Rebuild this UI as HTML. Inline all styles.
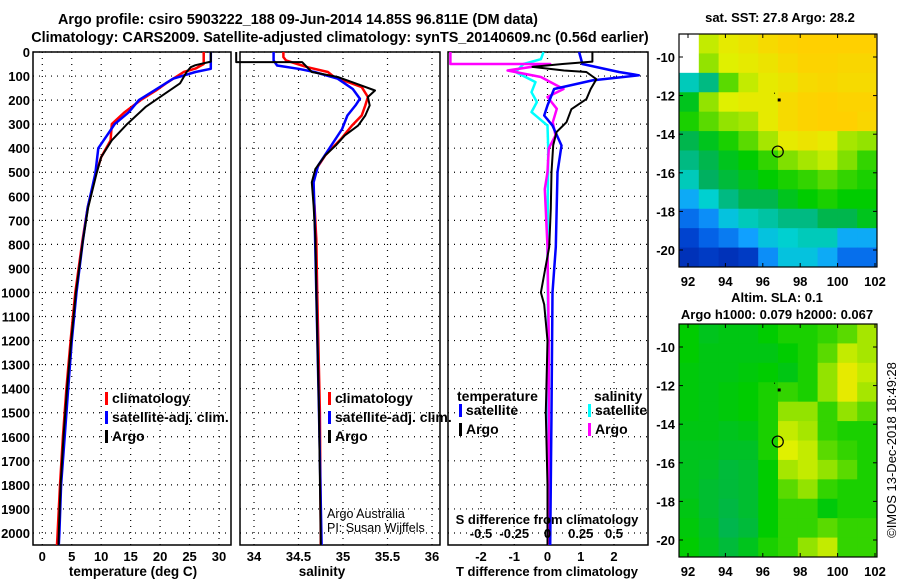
<!DOCTYPE html>
<html><head><meta charset="utf-8"><style>
body{margin:0;background:#fff;}
svg text{font-family:"Liberation Sans",sans-serif;}
</style></head><body>
<svg id="c" width="900" height="580" xmlns="http://www.w3.org/2000/svg">
<rect width="900" height="580" fill="#fff"/>
<text x="298" y="24" text-anchor="middle" font-weight="bold" font-size="14.4">Argo profile: csiro 5903222_188 09-Jun-2014 14.85S 96.811E (DM data)</text>
<text x="340" y="42" text-anchor="middle" font-weight="bold" font-size="14.4">Climatology: CARS2009. Satellite-adjusted climatology: synTS_20140609.nc (0.56d earlier)</text>
<g id="g"></g>
</svg>
<script>
// ---- data ----
const depthTicks=[0,100,200,300,400,500,600,700,800,900,1000,1100,1200,1300,1400,1500,1600,1700,1800,1900,2000];
const tempTicks=[0,5,10,15,20,25,30];
const salTicks=[34,34.5,35,35.5,36];
const tdiffTicks=[-2,-1,0,1,2];
const sdiffTicks=[-0.5,-0.25,0,0.25,0.5];
const argoTDepth=[0,40,55,63,83,130,170,229,300,367,437,506,646,785,1000,1200,1400,1600,1800,2000,2050];
const argoTemp=[28.6,28.6,26,25.2,24.5,23.4,21,17.5,14.4,11.8,10,9.2,7.8,6.9,5.7,4.9,4.2,3.6,3.1,2.8,2.75];
const climTDepth=[0,50,69,83,130,160,200,250,300,367,437,506,646,785,1000,1200,1400,1600,1800,2000,2050];
const climTemp=[27.4,27.4,26,24,21,19.3,16.7,14,11.8,11.6,10,9.1,7.7,6.8,5.6,4.8,4.1,3.5,3.0,2.6,2.5];
const satTDepth=[0,70,83,111,160,200,250,300,400,506,646,785,1000,1200,1400,1600,1800,2000,2050];
const satTemp=[28.6,28.6,26,22.2,19,16.4,14.7,12.3,9.5,9.0,7.7,6.9,5.8,5.0,4.4,3.8,3.2,2.9,2.8];
const argoSDepth=[0,42,42,83,104,125,160,187,222,264,306,347,388,430,486,542,639,778,1000,1500,2050];
const argoSal=[33.8,33.8,34.54,34.65,34.94,35.1,35.36,35.28,35.3,35.25,35.17,35.02,34.92,34.8,34.69,34.65,34.67,34.69,34.7,34.73,34.75];
const climSDepth=[0,21,35,56,63,83,104,146,187,222,264,306,361,430,486,542,639,778,1000,1500,2050];
const climSal=[34.33,34.33,34.36,34.54,34.6,34.83,34.9,35.21,35.28,35.25,35.21,35.1,34.98,34.8,34.7,34.66,34.68,34.7,34.71,34.74,34.75];
const satSDepth=[0,35,56,70,83,111,154,194,222,264,320,388,472,542,667,1000,1500,2050];
const satSal=[34.22,34.22,34.26,34.5,34.68,34.94,35.11,35.19,35.14,35.05,34.99,34.87,34.72,34.67,34.68,34.7,34.73,34.76];
const dTArgoDepth=[0,40,50,62,77,83,113,154,196,238,292,333,388,500,650,811,1000,1050,1200,1500,1800,2050];
const dTArgo=[1.35,1.35,0.45,-0.45,0.5,1.17,1.47,1.3,1.17,0.72,0.57,0.27,0.17,0.12,0.1,0.05,-0.2,-0.1,0,-0.05,0,0];
const dTSatDepth=[0,50,83,97,118,154,222,264,306,389,500,811,1000,1500,2050];
const dTSat=[0.95,1.05,2.15,2.75,1.35,0.2,0,-0.1,0.15,0.42,0.3,0.25,0.15,0.12,0.08];
const dSArgoDepth=[0,50,50,77,104,154,187,236,292,347,400,500,570,811,1200,1600,2050];
const dSArgo=[-0.73,-0.73,0.02,-0.3,-0.05,0.12,0,0.07,0.04,0.06,0.01,0,-0.02,0,0.01,0.01,0.01];
const dSSatDepth=[0,30,50,83,125,167,208,250,306,400,811,1200,1600,2050];
const dSSat=[-0.03,-0.05,-0.18,-0.24,-0.09,-0.12,-0.08,-0.12,0,0.005,0,0.005,0,0.01];
const mapLonTicks=[92,94,96,98,100,102];
const mapLatTicks=[-10,-12,-14,-16,-18,-20];
const sstGrid=[
[-1,0.75,0.8,0.82,0.85,0.87,0.88,0.88,0.88,0.88],
[-1,0.7,0.78,0.8,0.82,0.85,0.87,0.87,0.86,0.86],
[0.4,0.45,0.65,0.75,0.8,0.82,0.85,0.86,0.85,0.85],
[0.55,0.7,0.78,0.8,0.8,0.85,0.87,0.88,0.87,0.87],
[0.6,0.65,0.7,0.72,0.8,0.85,0.87,0.88,0.88,0.86],
[0.5,0.55,0.6,0.65,0.72,0.8,0.82,0.8,0.72,0.7],
[0.45,0.5,0.55,0.58,0.62,0.68,0.72,0.75,0.68,0.62],
[0.4,0.48,0.52,0.55,0.58,0.6,0.62,0.65,0.62,0.6],
[0.3,0.38,0.45,0.5,0.5,0.55,0.58,0.6,0.58,0.58],
[0.2,0.25,0.35,0.4,0.42,0.45,0.45,0.5,0.5,0.55],
[0.12,0.18,0.22,0.28,0.35,0.38,0.4,0.4,0.3,0.3],
[0.08,0.1,0.08,0.1,0.25,0.35,0.35,0.3,0.2,0.2]];
const slaGrid=[
[0.58,0.55,0.56,0.56,0.58,0.6,0.6,0.62,0.65,0.72],
[0.58,0.56,0.56,0.56,0.56,0.58,0.6,0.65,0.75,0.72],
[0.57,0.56,0.56,0.57,0.58,0.56,0.6,0.7,0.8,0.75],
[0.57,0.56,0.57,0.58,0.6,0.62,0.6,0.7,0.8,0.72],
[0.57,0.56,0.57,0.58,0.6,0.7,0.7,0.62,0.7,0.65],
[0.56,0.56,0.55,0.56,0.6,0.75,0.72,0.62,0.6,0.6],
[0.55,0.55,0.54,0.54,0.6,0.78,0.75,0.65,0.62,0.6],
[0.55,0.54,0.52,0.53,0.58,0.72,0.75,0.7,0.65,0.6],
[0.55,0.53,0.52,0.53,0.58,0.65,0.7,0.62,0.6,0.6],
[0.56,0.53,0.51,0.53,0.58,0.62,0.62,0.57,0.6,0.6],
[0.57,0.54,0.5,0.52,0.58,0.62,0.62,0.65,0.62,0.62],
[0.58,0.55,0.52,0.55,0.6,0.62,0.7,0.75,0.62,0.62]];
const floatPos=[96.8,-14.9];

// ---- helpers ----
const NS="http://www.w3.org/2000/svg";
const G=document.getElementById('g');
function mk(tag,at,parent){const e=document.createElementNS(NS,tag);for(const k in at)e.setAttribute(k,at[k]);(parent||G).appendChild(e);return e;}
function txt(x,y,s,anchor,size){const e=mk('text',{x:x,y:y,'text-anchor':anchor||'middle','font-weight':'bold','font-size':size||13});e.textContent=s;return e;}
const Y0=52,Y1=545;
function yD(d){return Y0+d*(Y1-Y0)/2050;}
function lin(a,b,pa,pb){return v=>pa+(v-a)*(pb-pa)/(b-a);}
const xT=lin(0,30,42.3,219);
const xS=lin(34,36,254,432);
const xdT=lin(0,2,547.5,614);
const xdS=lin(0,0.5,547.5,614);

function panel(x0,x1,xticks,xf,name){
  depthTicks.forEach(d=>{const l=mk('line',{x1:x0,x2:x1,y1:yD(d),y2:yD(d),stroke:'#000','stroke-width':1.2,'stroke-dasharray':'1 5'});
  
  });
  xticks.forEach(v=>{const l=mk('line',{x1:xf(v),x2:xf(v),y1:Y0,y2:Y1,stroke:'#000','stroke-width':1.2,'stroke-dasharray':'1 5'});
  
  
  const t=txt(xf(v),561,String(v),'middle',13);
  
  });
  const r=mk('rect',{x:x0,y:Y0,width:x1-x0,height:Y1-Y0,fill:'none',stroke:'#000','stroke-width':1.5});
  
  
}
function series(ds,vs,xf,color,name,w){
  let p='';ds.forEach((d,i)=>{p+=(i?'L':'M')+xf(vs[i]).toFixed(1)+','+yD(d).toFixed(1);});
  const e=mk('path',{d:p,fill:'none',stroke:color,'stroke-width':w||2.5,'stroke-linejoin':'round'});
  
  
}
function legend(x,y,items,pname){
  items.forEach((it,i)=>{const yy=y+i*19;
   const b=mk('rect',{x:x,y:yy-11,width:3,height:13,fill:it[1]});
   
   
   const t=txt(x+7,yy,it[0],'start',14);
   
   });
}
// panel 1
panel(33,231,tempTicks,xT,'temperature-panel');
depthTicks.forEach(d=>{const t=txt(30,yD(d)+5,String(d),'end',13);
 
 });
series(climTDepth,climTemp,xT,'#f00','temp-climatology-line');
series(satTDepth,satTemp,xT,'#00f','temp-satellite-line');
series(argoTDepth,argoTemp,xT,'#000','temp-argo-line',2);
legend(105,403,[['climatology','#f00'],['satellite-adj. clim.','#00f'],['Argo','#000']],'temperature');
{const t=txt(133,576,'temperature (deg C)','middle',13.5);}
// panel 2
panel(240,440,salTicks,xS,'salinity-panel');
series(climSDepth,climSal,xS,'#f00','sal-climatology-line');
series(satSDepth,satSal,xS,'#00f','sal-satellite-line');
series(argoSDepth,argoSal,xS,'#000','sal-argo-line',2);
legend(328,403,[['climatology','#f00'],['satellite-adj. clim.','#00f'],['Argo','#000']],'salinity');
{const t=txt(322,576,'salinity','middle',13.5);}
{const a=mk('text',{x:327,y:518,'font-size':12.5});a.textContent='Argo Australia';
 const b=mk('text',{x:327,y:532,'font-size':12.5});b.textContent='PI: Susan Wijffels';}
// panel 3
panel(448,648,tdiffTicks,xdT,'difference-panel');
series(dSSatDepth,dSSat,xdS,'#0ff','sdiff-satellite-line');
series(dSArgoDepth,dSArgo,xdS,'#f0f','sdiff-argo-line');
series(dTSatDepth,dTSat,xdT,'#00f','tdiff-satellite-line');
series(dTArgoDepth,dTArgo,xdT,'#000','tdiff-argo-line',2);
{const t=txt(457,401,'temperature','start',14);
 const s=txt(594,401,'salinity','start',14);}
legend(459,415,[['satellite','#00f'],['Argo','#000']],'tdiff');
legend(588,415,[['satellite','#0ff'],['Argo','#f0f']],'sdiff');
{const t=txt(547,524,'S difference from climatology','middle',13);}
sdiffTicks.forEach(v=>{const t=txt(xdS(v),538,String(v),'middle',13);
 
 });
{const t=txt(547,576,'T difference from climatology','middle',13);}

// maps
const stops=[[0,[0,16,140]],[0.15,[0,80,224]],[0.28,[16,160,255]],[0.38,[0,208,208]],[0.48,[0,176,96]],[0.58,[0,204,0]],[0.68,[128,224,0]],[0.78,[224,240,0]],[0.88,[255,208,0]],[1,[255,160,0]]];
function col(v){if(v<0)return '#fff';for(let i=1;i<stops.length;i++){if(v<=stops[i][0]){const a=stops[i-1],b=stops[i],f=(v-a[0])/(b[0]-a[0]);return 'rgb('+a[1].map((c,k)=>Math.round(c+f*(b[1][k]-c))).join(',')+')';}}return 'rgb(255,160,0)';}
function map(top,grid,name){
  const L=679,R=877,B=top+233;
  const xl=lin(92,102,688,875), yl=lin(-10,-20,top+23,top+216);
  const nr=grid.length,nc=grid[0].length,cw=(R-L)/nc,ch=(B-top)/nr;
  grid.forEach((row,i)=>row.forEach((v,j)=>{const c=mk('rect',{x:L+j*cw,y:top+i*ch,width:cw+0.5,height:ch+0.5,fill:col(v)});
   
   }));
  const f=mk('rect',{x:L,y:top,width:R-L,height:B-top,fill:'none',stroke:'#000','stroke-width':1.2});
  
  
  mapLonTicks.forEach(v=>{mk('line',{x1:xl(v),x2:xl(v),y1:B,y2:B-4,stroke:'#000'});mk('line',{x1:xl(v),x2:xl(v),y1:top,y2:top+4,stroke:'#000'});
   const t=txt(xl(v),B+19,String(v),'middle',13);});
  mapLatTicks.forEach(v=>{mk('line',{x1:L,x2:L+4,y1:yl(v),y2:yl(v),stroke:'#000'});mk('line',{x1:R,x2:R-4,y1:yl(v),y2:yl(v),stroke:'#000'});
   const t=txt(675,yl(v)+5,String(v),'end',13);});
  const c=mk('circle',{cx:xl(floatPos[0]),cy:yl(floatPos[1]),r:5.5,fill:'none',stroke:'#000','stroke-width':1.2});
  
  
  mk('rect',{x:xl(96.85)-1,y:yl(-12.2)-1,width:3,height:3,fill:'#000'});
  mk('rect',{x:xl(96.6),y:yl(-11.85),width:1,height:1,fill:'#000'});
}
map(34,sstGrid,'sst-map');
map(324,slaGrid,'sla-map');
{const t=txt(780,22,'sat. SST: 27.8 Argo: 28.2','middle',13);
 const a=txt(777,302,'Altim. SLA: 0.1','middle',13);
 const b=txt(777,319,'Argo h1000: 0.079 h2000: 0.067','middle',13);
 const c=mk('text',{x:0,y:0,'font-size':13,'text-anchor':'middle',transform:'translate(896,450) rotate(-90)'});c.textContent='©IMOS 13-Dec-2018 18:49:28';
 }
</script>
</body></html>
